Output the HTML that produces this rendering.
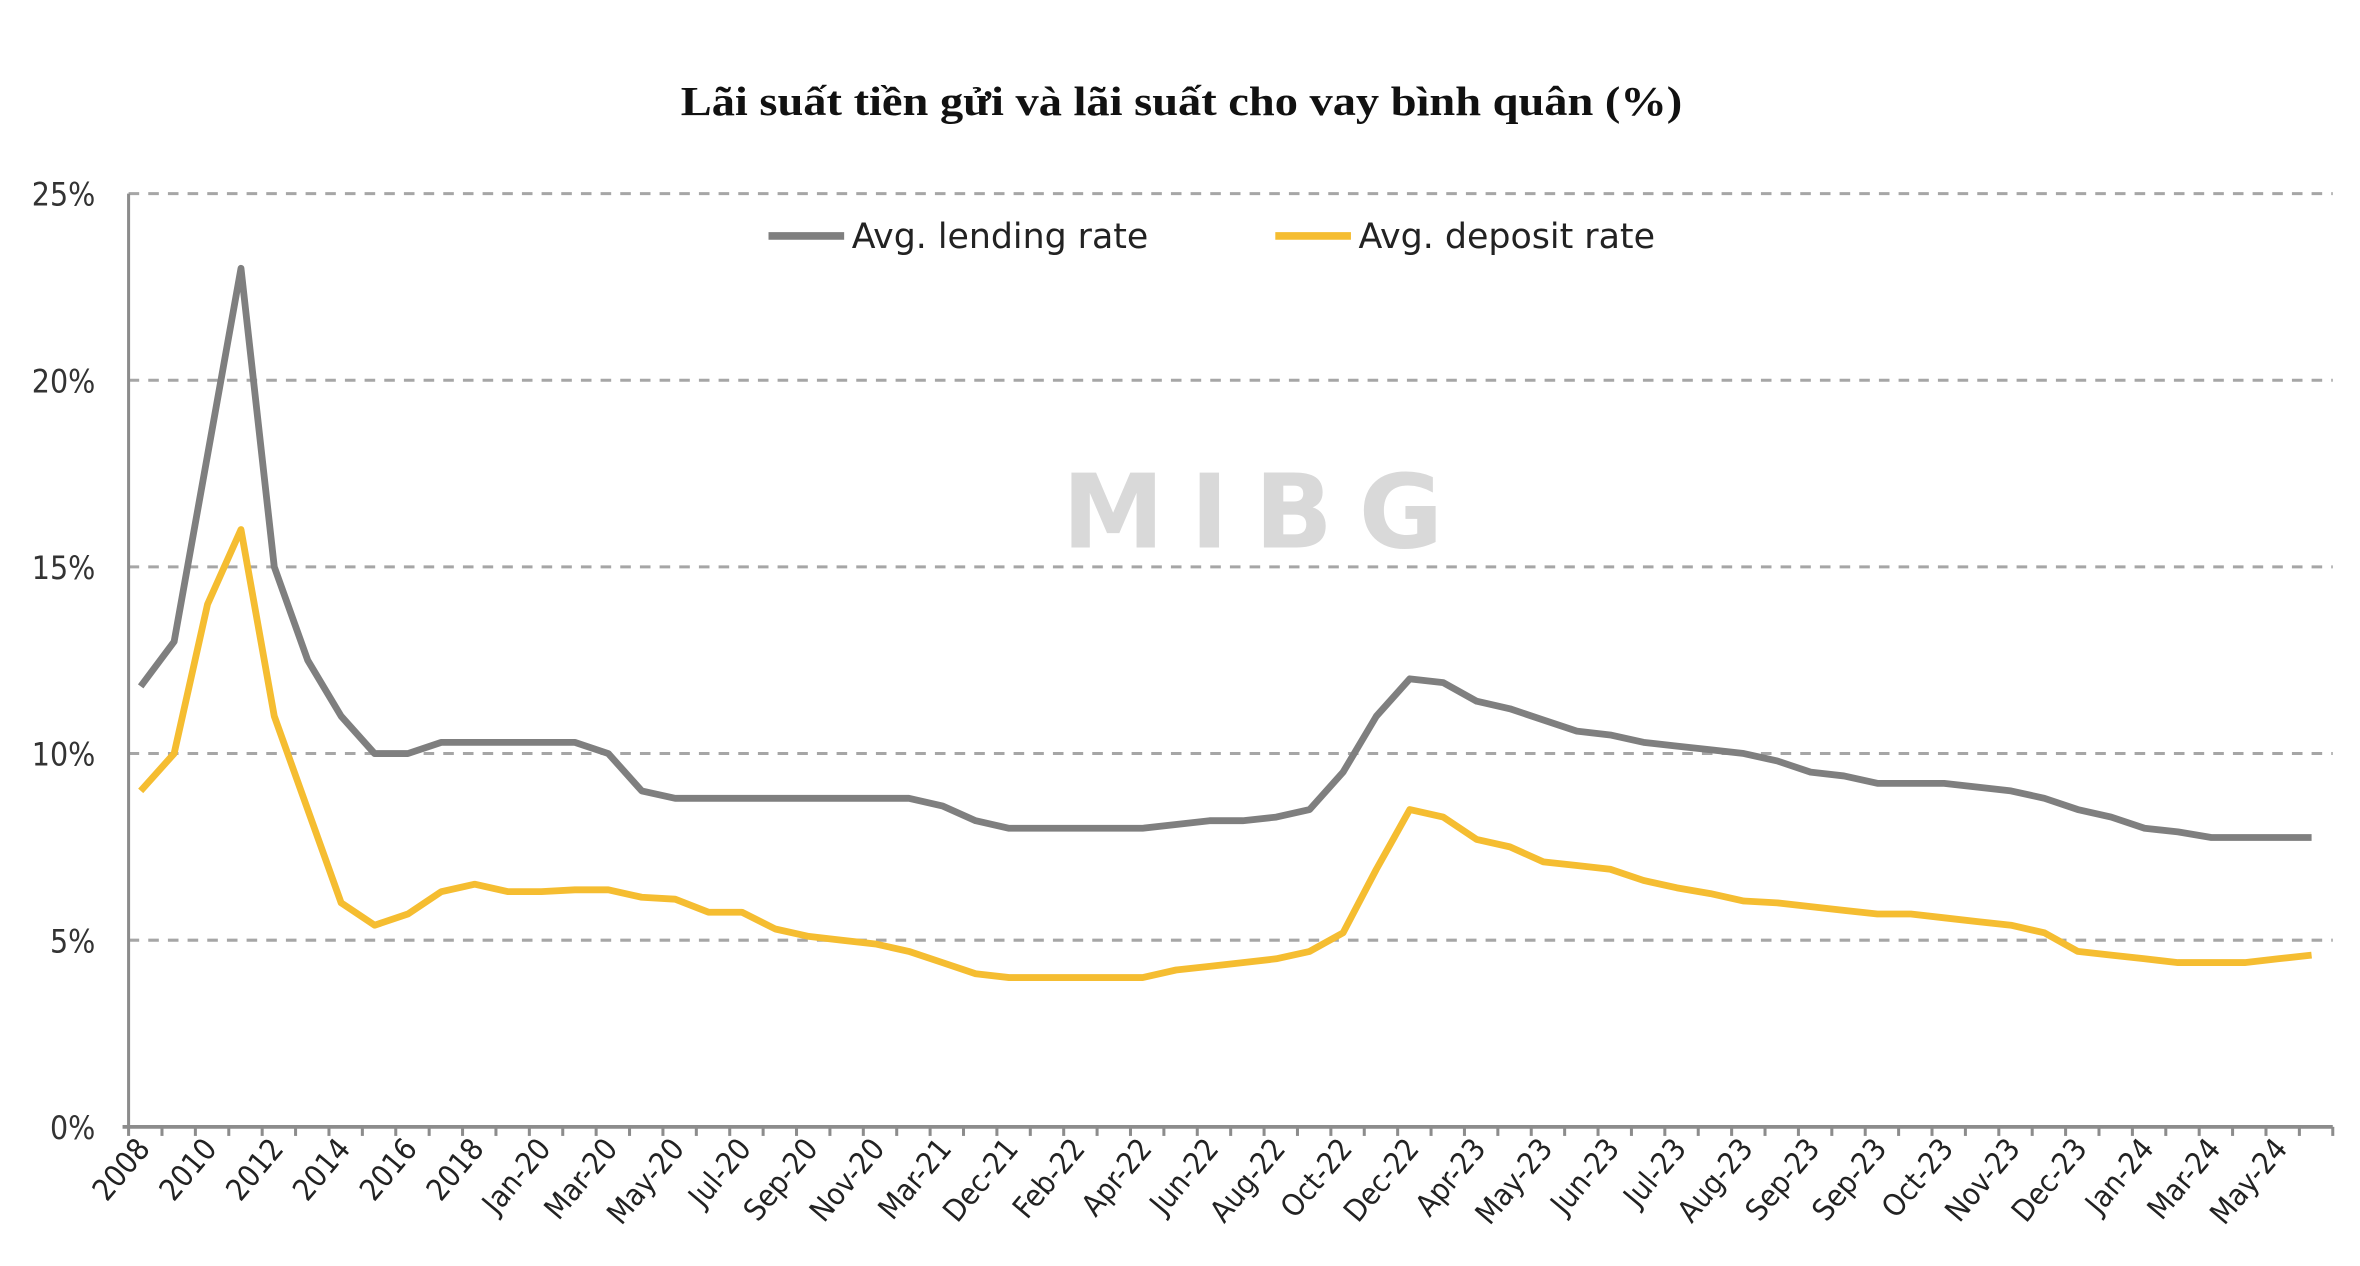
<!DOCTYPE html>
<html><head><meta charset="utf-8">
<style>
html,body{margin:0;padding:0;background:#fff;}
svg{display:block;}
</style></head>
<body>
<svg id="c" width="2360" height="1266" viewBox="0 0 1560 837" preserveAspectRatio="none" xmlns="http://www.w3.org/2000/svg">
<rect width="1560" height="837" fill="#fff"/>
<text x="781" y="76" text-anchor="middle" font-family="Liberation Serif, serif" font-weight="bold" font-size="27" textLength="662" lengthAdjust="spacingAndGlyphs" fill="#111">Lãi suất tiền gửi và lãi suất cho vay bình quân (%)</text>
<text x="828" y="362" text-anchor="middle" font-family="DejaVu Sans, Liberation Sans, sans-serif" font-weight="bold" font-size="68" fill="#d9d9d9" textLength="252" lengthAdjust="spacing">MIBG</text>
<g id="grid"></g>
<g id="series"></g>
<line x1="508" y1="156" x2="558" y2="156" stroke="#7f7f7f" stroke-width="5"/>
<text x="563" y="164" font-family="DejaVu Sans Condensed, DejaVu Sans, sans-serif" font-size="23" textLength="196" lengthAdjust="spacingAndGlyphs" fill="#222">Avg. lending rate</text>
<line x1="843" y1="156" x2="893" y2="156" stroke="#f5bd31" stroke-width="5"/>
<text x="898" y="164" font-family="DejaVu Sans Condensed, DejaVu Sans, sans-serif" font-size="23" textLength="196" lengthAdjust="spacingAndGlyphs" fill="#222">Avg. deposit rate</text>
</svg>
<script>
(function(){
var NS="http://www.w3.org/2000/svg";
var L=85,R=1542,T=128,B=745;
var g=document.getElementById('grid'),s=document.getElementById('series');
function el(n,a,p){var e=document.createElementNS(NS,n);for(var k in a)e.setAttribute(k,a[k]);(p||g).appendChild(e);return e;}
function yv(v){return B-(B-T)*v/25;}
for(var k=0;k<=5;k++){var y=yv(k*5);
 if(k>0)el('line',{x1:L,y1:y,x2:R,y2:y,stroke:'#a6a6a6','stroke-width':2,'stroke-dasharray':'7,6'});
 var t=el('text',{x:63,y:y+8,'text-anchor':'end','font-family':'DejaVu Sans Condensed, DejaVu Sans, sans-serif','font-size':21,fill:'#333'});t.textContent=(k*5)+'%';}
el('line',{x1:L,y1:T,x2:L,y2:B,stroke:'#8c8c8c','stroke-width':2});
el('line',{x1:L-4,y1:B,x2:R,y2:B,stroke:'#8c8c8c','stroke-width':2.5});
var N=66,w=(R-L)/N;
for(var i=0;i<=N;i++){var x=L+w*i;el('line',{x1:x,y1:B,x2:x,y2:B+6,stroke:'#8c8c8c','stroke-width':2});}
var labs=['2008','2010','2012','2014','2016','2018','Jan-20','Mar-20','May-20','Jul-20','Sep-20','Nov-20','Mar-21','Dec-21','Feb-22','Apr-22','Jun-22','Aug-22','Oct-22','Dec-22','Apr-23','May-23','Jun-23','Jul-23','Aug-23','Sep-23','Sep-23','Oct-23','Nov-23','Dec-23','Jan-24','Mar-24','May-24'];
for(var j=0;j<labs.length;j++){var x=L+w*(2*j+0.5)+4,y=B+15;
 var t=el('text',{x:x,y:y,'text-anchor':'end','font-family':'DejaVu Sans Condensed, DejaVu Sans, sans-serif','font-size':20,fill:'#222',transform:'rotate(-50 '+x+' '+y+')'});t.textContent=labs[j];}
var lend=[11.8,13,18,23,15,12.5,11,10,10,10.3,10.3,10.3,10.3,10.3,10.0,9.0,8.8,8.8,8.8,8.8,8.8,8.8,8.8,8.8,8.6,8.2,8.0,8.0,8.0,8.0,8.0,8.1,8.2,8.2,8.3,8.5,9.5,11.0,12.0,11.9,11.4,11.2,10.9,10.6,10.5,10.3,10.2,10.1,10.0,9.8,9.5,9.4,9.2,9.2,9.2,9.1,9.0,8.8,8.5,8.3,8.0,7.9,7.75,7.75,7.75,7.75];
var dep=[9.0,10.0,14.0,16.0,11.0,8.5,6.0,5.4,5.7,6.3,6.5,6.3,6.3,6.35,6.35,6.15,6.1,5.75,5.75,5.3,5.1,5.0,4.9,4.7,4.4,4.1,4.0,4.0,4.0,4.0,4.0,4.2,4.3,4.4,4.5,4.7,5.2,6.9,8.5,8.3,7.7,7.5,7.1,7.0,6.9,6.6,6.4,6.25,6.05,6.0,5.9,5.8,5.7,5.7,5.6,5.5,5.4,5.2,4.7,4.6,4.5,4.4,4.4,4.4,4.5,4.6];
function pl(d,c){var p=[];for(var i=0;i<d.length;i++)p.push((L+w*(i+0.5)-3).toFixed(1)+','+yv(d[i]).toFixed(1));
 el('polyline',{points:p.join(' '),fill:'none',stroke:c,'stroke-width':4.5,'stroke-linejoin':'round'},s);}
pl(lend,'#7f7f7f');pl(dep,'#f5bd31');
})();
</script>
</body></html>
